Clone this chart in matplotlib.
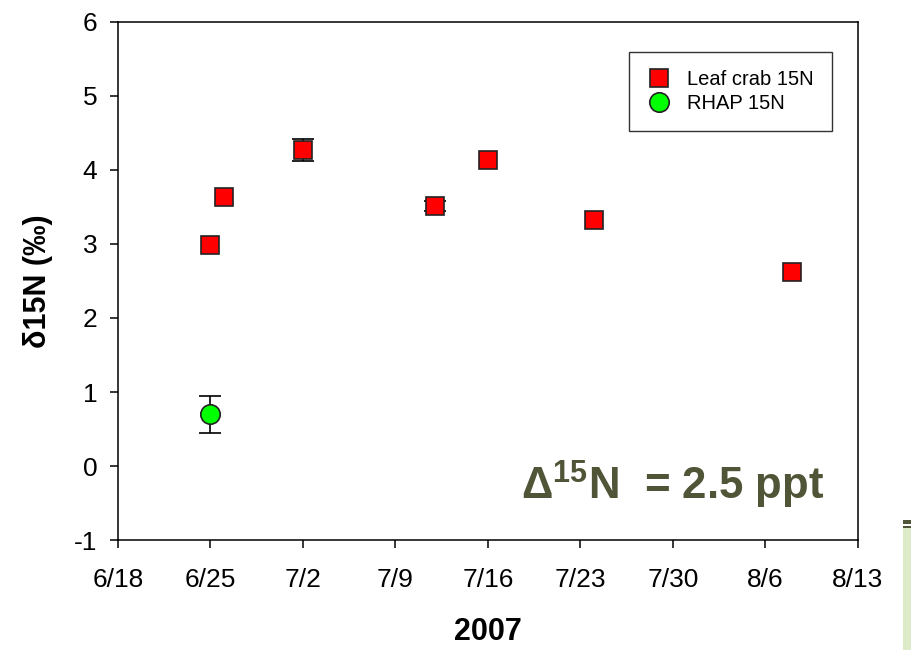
import matplotlib
matplotlib.use("Agg")
import matplotlib.pyplot as plt
import matplotlib.dates as mdates
from matplotlib.patches import Rectangle
import datetime as dt

plt.rcParams['font.family'] = ['Liberation Sans', 'DejaVu Sans']
plt.rcParams['mathtext.fontset'] = 'custom'
plt.rcParams['mathtext.rm'] = 'Liberation Sans'
plt.rcParams['mathtext.bf'] = 'Liberation Sans:bold'

# Data
crab_dates = ["2007-06-25", "2007-06-26", "2007-07-02", "2007-07-12",
              "2007-07-16", "2007-07-24", "2007-08-08"]
crab_values = [2.98, 3.64, 4.27, 3.51, 4.13, 3.33, 2.62]
crab_err = [0.0, 0.0, 0.15, 0.07, 0.0, 0.0, 0.0]

rhap_dates = ["2007-06-25"]
rhap_values = [0.70]
rhap_err = [0.25]

xtick_dates = ["2007-06-18", "2007-06-25", "2007-07-02", "2007-07-09",
               "2007-07-16", "2007-07-23", "2007-07-30", "2007-08-06",
               "2007-08-13"]
xtick_labels = ["6/18", "6/25", "7/2", "7/9", "7/16", "7/23", "7/30", "8/6", "8/13"]
yticks = [-1, 0, 1, 2, 3, 4, 5, 6]


def to_num(ds):
    return [mdates.date2num(dt.datetime.strptime(d, "%Y-%m-%d")) for d in ds]


fig = plt.figure(figsize=(9.11, 6.5), dpi=100)
ax = fig.add_axes([0.1295, 0.1692, 0.8123, 0.797])

cx = to_num(crab_dates)
rx = to_num(rhap_dates)

# error bars (only where an error is visible)
ex = [x for x, e in zip(cx, crab_err) if e > 0]
ey = [v for v, e in zip(crab_values, crab_err) if e > 0]
ee = [e for e in crab_err if e > 0]
ax.errorbar(ex, ey, yerr=ee, fmt='none', ecolor='black', elinewidth=1.2,
            capsize=8, capthick=1.2, zorder=2)
ax.errorbar(rx, rhap_values, yerr=rhap_err, fmt='none', ecolor='black',
            elinewidth=1.2, capsize=8, capthick=1.2, zorder=2)

ax.plot(cx, crab_values, 's', linestyle='none', markersize=12.5,
        markerfacecolor='#FF0000', markeredgecolor='#222222',
        markeredgewidth=1.2, label='Leaf crab 15N', zorder=3)
ax.plot(rx, rhap_values, 'o', linestyle='none', markersize=14,
        markerfacecolor='#00FF00', markeredgecolor='#222222',
        markeredgewidth=1.2, label='RHAP 15N', zorder=3)

xt = to_num(xtick_dates)
ax.set_xlim(xt[0], xt[-1])
ax.set_ylim(-1, 6)
ax.set_xticks(xt)
ax.set_xticklabels(xtick_labels)
ax.set_yticks(yticks)
ax.set_yticklabels([str(v) for v in yticks])
ax.tick_params(axis='both', direction='out', length=6, width=1.1,
               labelsize=19, colors='black', pad=9)
ax.tick_params(axis='x', pad=14)
for sp in ax.spines.values():
    sp.set_linewidth(1.1)
    sp.set_color('black')

ax.set_xlabel('2007', fontsize=22, fontweight='bold', labelpad=18)
ax.set_ylabel('δ15N (‰)', fontsize=22, fontweight='bold', labelpad=15)

leg = ax.legend(loc='upper right', bbox_to_anchor=(0.965, 0.942), fontsize=14.5,
                frameon=True, fancybox=False, edgecolor='black', borderpad=0.9,
                handletextpad=0.8, borderaxespad=0, labelspacing=0.25,
                handlelength=1.2, numpoints=1)
leg.get_frame().set_linewidth(1.0)

ax.text(0.954, 0.077, r'Δ$^{\mathbf{15}}$N  = 2.5 ppt', transform=ax.transAxes,
        ha='right', va='baseline', fontsize=31.5, fontweight='bold', color='#4F5536')

# decorative slide fragment at bottom right
fig.patches.append(Rectangle((903/911, 0), 8/911, 122/650, transform=fig.transFigure,
                             facecolor='#DDEBC8', edgecolor='none'))
fig.patches.append(Rectangle((903/911, 126/650), 8/911, 4/650, transform=fig.transFigure,
                             facecolor='#4F5536', edgecolor='none'))
fig.patches.append(Rectangle((903/911, 122/650), 8/911, 2/650, transform=fig.transFigure,
                             facecolor='#4F5536', edgecolor='none'))

fig.savefig('out.png', dpi=100)
